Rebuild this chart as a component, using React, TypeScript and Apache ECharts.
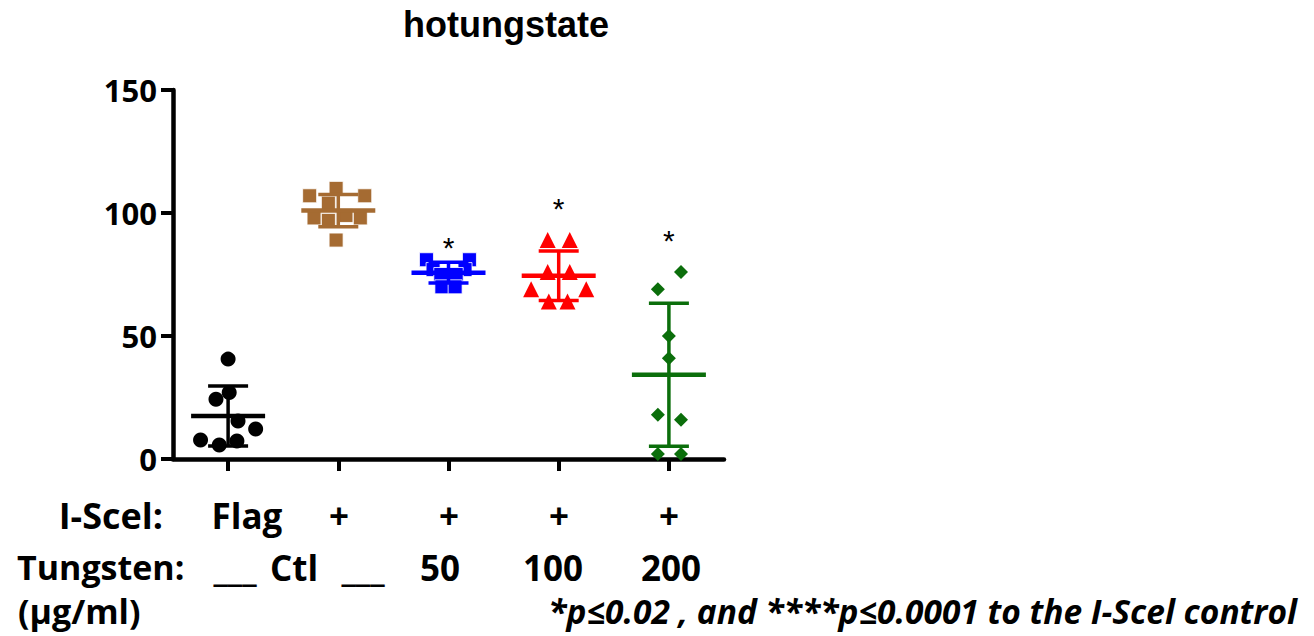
import React, { useEffect, useRef } from "react";
import * as echarts from "echarts";

// ---- data ----
const categories = ["Flag", "I-SceI Ctl", "W 50", "W 100", "W 200"];
const flagVals = [40.6, 27, 24.3, 15.4, 12.2, 7.7, 7.3, 5.7];
const flagJitter = [0, 0.01, -0.11, 0.09, 0.25, -0.25, 0.08, -0.08];
const ctlVals = [107, 110, 107, 104, 98, 97, 99, 98, 89];
const ctlJitter = [-0.26, -0.02, 0.24, -0.09, -0.22, -0.09, 0.07, 0.2, -0.02];
const w50Vals = [81, 81, 77, 77, 75, 75, 70, 70];
const w50Jitter = [-0.2, 0.19, -0.14, 0.15, -0.07, 0.07, -0.06, 0.06];
const w100Vals = [89, 89, 76, 76, 69, 69, 64, 64];
const w100Jitter = [-0.1, 0.1, -0.1, 0.1, -0.25, 0.25, -0.09, 0.08];
const w200Vals = [76, 69, 50, 41, 18, 16, 2, 2];
const w200Jitter = [0.11, -0.1, 0, 0, -0.1, 0.11, -0.1, 0.11];
const starValues: (number | null)[] = [null, null, 86, 102, 89];
const yTicks = [0, 50, 100, 150];
const iScelRow = ["Flag", "+", "+", "+", "+"];
const tungstenRow = ["___", "Ctl", "___", "50", "100", "200"];
const titleText = "hotungstate";
const footText = "*p\u22640.02 , and ****p\u22640.0001 to the I-Scel control";

const groups = [
  { vals: flagVals, jit: flagJitter, color: "#000000", symbol: "circle", size: 15 },
  { vals: ctlVals, jit: ctlJitter, color: "#A56B32", symbol: "rect", size: 14 },
  { vals: w50Vals, jit: w50Jitter, color: "#0000FF", symbol: "rect", size: 14 },
  { vals: w100Vals, jit: w100Jitter, color: "#FF0000", symbol: "triangle", size: 16 },
  { vals: w200Vals, jit: w200Jitter, color: "#0B6E0B", symbol: "diamond", size: 14 },
];

function meanSd(v: number[]) {
  const m = v.reduce((a, b) => a + b, 0) / v.length;
  const s = Math.sqrt(v.reduce((a, b) => a + (b - m) * (b - m), 0) / (v.length - 1));
  return [m, s];
}

const LABEL_FONT = '"Open Sans", "Noto Sans", sans-serif';
const TITLE_FONT = '"Liberation Sans", Arial, sans-serif';

export default function App() {
  const ref = useRef<HTMLDivElement>(null);
  useEffect(() => {
    if (!ref.current) return;
    const chart = echarts.init(ref.current, undefined, { renderer: "svg" });

    const scatterSeries = groups.map((g, gi) => ({
      type: "scatter",
      xAxisIndex: 1,
      yAxisIndex: 0,
      symbol: g.symbol,
      symbolSize: g.size,
      itemStyle: {
        color: g.color,
        borderColor: g.symbol === "rect" ? "#ffffff" : g.color,
        borderWidth: g.symbol === "rect" ? 0.8 : 0,
        opacity: 1,
      },
      z: 2,
      data: g.vals.map((v, i) => [gi + 0.5 + g.jit[i], v]),
    }));

    const errData = groups.map((g, gi) => {
      const [m, s] = meanSd(g.vals);
      return [gi + 0.5, m, s, gi];
    });

    const errSeries = {
      type: "custom",
      xAxisIndex: 1,
      yAxisIndex: 0,
      z: 3,
      data: errData,
      renderItem: (params: any, api: any) => {
        const x = api.value(0);
        const m = api.value(1);
        const s = api.value(2);
        const color = groups[api.value(3)].color;
        const pm = api.coord([x, m]);
        const pt = api.coord([x, m + s]);
        const pb = api.coord([x, Math.max(m - s, 0)]);
        const halfMean = 37;
        const halfCap = 20;
        return {
          type: "group",
          children: [
            { type: "line", shape: { x1: pt[0], y1: pt[1], x2: pb[0], y2: pb[1] }, style: { stroke: color, lineWidth: 3.5 } },
            { type: "line", shape: { x1: pm[0] - halfMean, y1: pm[1], x2: pm[0] + halfMean, y2: pm[1] }, style: { stroke: color, lineWidth: 4.5 } },
            { type: "line", shape: { x1: pt[0] - halfCap, y1: pt[1], x2: pt[0] + halfCap, y2: pt[1] }, style: { stroke: color, lineWidth: 3.5 } },
            { type: "line", shape: { x1: pb[0] - halfCap, y1: pb[1], x2: pb[0] + halfCap, y2: pb[1] }, style: { stroke: color, lineWidth: 3.5 } },
          ],
        };
      },
    };

    const starData = starValues
      .map((v, i) => (v == null ? null : [i + 0.5, v]))
      .filter((d) => d != null);

    const starSeries = {
      type: "custom",
      xAxisIndex: 1,
      yAxisIndex: 0,
      z: 4,
      data: starData,
      renderItem: (params: any, api: any) => {
        const p = api.coord([api.value(0), api.value(1)]);
        return {
          type: "text",
          x: p[0],
          y: p[1],
          style: {
            text: "*",
            fontSize: 30,
            fontFamily: TITLE_FONT,
            fill: "#000",
            align: "center",
            verticalAlign: "middle",
          },
        };
      },
    };

    const iScelX = [247, 339, 449, 559, 669];
    const tungX = [235, 294, 363, 440, 553, 671];

    const labelStyle = (text: string, size: number, align: string) => ({
      text,
      fontSize: size,
      fontWeight: "bold",
      fontFamily: LABEL_FONT,
      fill: "#000",
      align,
      verticalAlign: "middle",
    });

    const graphics: any[] = [
      { type: "text", x: 163, y: 515, style: labelStyle("I-Scel:", 36, "right") },
      { type: "text", x: 17, y: 567, style: labelStyle("Tungsten:", 34, "left") },
      { type: "text", x: 18, y: 611, style: labelStyle("(\u00b5g/ml)", 34, "left") },
      ...iScelRow.map((t, i) => ({ type: "text", x: iScelX[i], y: 515, style: labelStyle(t, 35, "center") })),
      ...tungstenRow.map((t, i) => ({ type: "text", x: tungX[i], y: 567, style: labelStyle(t, 35, "center") })),
      {
        type: "text",
        x: 1297,
        y: 611,
        style: { ...labelStyle(footText, 33.5, "right"), fontStyle: "italic" },
      },
    ];

    chart.setOption({
      animation: false,
      backgroundColor: "#ffffff",
      title: {
        text: titleText,
        left: 398,
        top: 1,
        textStyle: { fontSize: 36, fontWeight: "bold", fontFamily: TITLE_FONT, color: "#000" },
      },
      grid: { left: 173, right: 590, top: 90, bottom: 177, containLabel: false },
      xAxis: [
        {
          type: "category",
          data: categories,
          boundaryGap: true,
          axisLine: { show: true, lineStyle: { color: "#000", width: 4.5 } },
          axisTick: { show: true, alignWithLabel: true, length: 12, lineStyle: { color: "#000", width: 4 } },
          axisLabel: { show: false },
          splitLine: { show: false },
        },
        {
          type: "value",
          min: 0,
          max: 5,
          show: false,
          splitLine: { show: false },
        },
      ],
      yAxis: {
        type: "value",
        min: yTicks[0],
        max: yTicks[yTicks.length - 1],
        interval: 50,
        axisLine: { show: true, lineStyle: { color: "#000", width: 4.5 } },
        axisTick: { show: true, length: 12, lineStyle: { color: "#000", width: 4 } },
        axisLabel: {
          color: "#000",
          fontSize: 31,
          fontWeight: "bold",
          fontFamily: LABEL_FONT,
          margin: 16,
        },
        splitLine: { show: false },
      },
      graphic: graphics,
      series: [...scatterSeries, errSeries, starSeries],
    });

    return () => chart.dispose();
  }, []);

  return (
    <div
      ref={ref}
      style={{ position: "fixed", left: 0, top: 0, width: 1314, height: 636, background: "#fff" }}
    />
  );
}
